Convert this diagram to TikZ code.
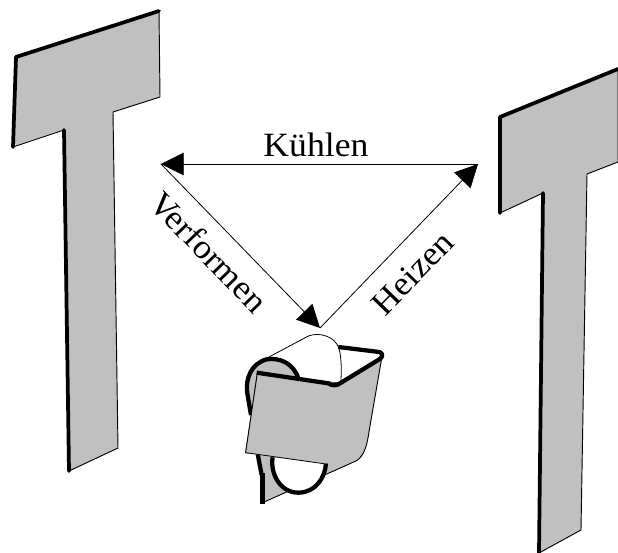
\documentclass[tikz,border=0pt]{standalone}
\usepackage{fontspec}
\setmainfont[FakeStretch=1.05]{Liberation Serif}
\usetikzlibrary{arrows.meta}
\definecolor{sheet}{HTML}{C0C0C0}
\tikzset{
  plate/.style={fill=sheet,draw=black,line width=0.7pt,line join=miter},
  thick edge/.style={line width=2.8pt,line cap=round,line join=round},
  thin edge/.style={draw=black,line width=0.6pt},
  flow/.style={draw=black,line width=0.6pt,-{Triangle[length=17pt,width=17pt,fill=black]}},
  lab/.style={font=\fontsize{25.5}{28}\selectfont,inner sep=0pt},
  loop edge/.style={line width=3.2pt,line cap=butt,line join=round},
}
\begin{document}
\begin{tikzpicture}[x=0.75pt,y=-0.75pt]
\useasboundingbox (0,0) rectangle (618,553);
\clip (0,0) rectangle (618,553);
% left T
\draw[plate] (16,57)--(159,11)--(160,97)--(113,112)--(118,448)--(69,471)--(64,130)--(13,147)--cycle;
\draw[thick edge] (159,11)--(16,57)--(13,147);
\draw[thick edge] (64,130)--(69,471);
% right T
\draw[plate] (500,117)--(618,69)--(618,162)--(587,174)--(581,530)--(539,553)--(543,193)--(500,213)--cycle;
\draw[thick edge] (618,69)--(500,117)--(500,213);
\draw[thick edge] (543,193)--(539,553);
% triangle of states
\coordinate (A) at (161,164);
\coordinate (B) at (478,164);
\coordinate (C) at (320,328);
\draw[flow] (B) -- (A);
\draw[flow] (A) -- (C);
\draw[flow] (C) -- (B);
\node[lab] (kuehlen) at (316,145) {Kühlen};
\node[lab,rotate=-46] (verformen) at (209,252) {Verformen};
\node[lab,rotate=46] (heizen) at (413,273) {Heizen};
% clip shape (units: one third of a pixel)
\begin{scope}[shift={(220,300)},x=0.25pt,y=-0.25pt]
  % back of the roll
  \draw[thin edge,fill=white] (145,172) -- (265,108) .. controls (300,95) and (345,110) .. (357,145)
     .. controls (365,175) and (365,220) .. (362,250) -- (240,240) -- cycle;
  % left loop
  \fill[sheet] (235,235) .. controls (220,190) and (180,172) .. (140,178)
     .. controls (95,190) and (75,235) .. (82,280) -- (95,350) -- (110,218) -- cycle;
  \draw[loop edge] (235,235) .. controls (220,190) and (180,172) .. (140,178)
     .. controls (95,190) and (75,235) .. (82,280) -- (93,345);
  % tail and right part of the sheet
  \draw[plate] (112,460) -- (128,530) -- (128,608) -- (410,482)
     .. controls (435,465) and (442,430) .. (447,395) -- (485,175) -- (360,250) -- (112,220) -- (77,458) -- cycle;
  \draw[loop edge] (113,462) -- (125,525);
  \draw[line width=4pt] (127,520) -- (127,611);
  % white bight
  \draw[loop edge,fill=white] (158,472) .. controls (150,520) and (180,578) .. (235,578)
     .. controls (285,578) and (315,535) .. (318,490);
  % front of the sheet
  \fill[sheet] (112,220) -- (77,458) -- (318,492) -- (340,300) -- (360,250) -- cycle;
  \draw[thin edge] (112,220) -- (77,458) -- (318,492);
  % rim
  \draw[loop edge] (110,218) -- (325,250) .. controls (335,257) and (350,258) .. (360,250)
     -- (478,178) .. controls (495,165) and (485,155) .. (470,155) -- (355,141);
\end{scope}
\end{tikzpicture}
\end{document}
